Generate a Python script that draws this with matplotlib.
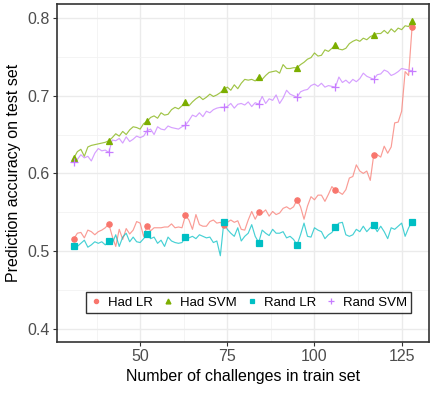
import numpy as np
import matplotlib
matplotlib.use("Agg")
import matplotlib.pyplot as plt
from matplotlib.ticker import MultipleLocator

# number of challenges in the train set
train_size = list(range(31, 129))
marker_x = [31, 41, 52, 63, 74, 84, 95, 106, 117, 128]

had_lr = [
    0.516, 0.523, 0.524, 0.517, 0.527, 0.525, 0.521, 0.525, 0.527, 0.530,
    0.535, 0.519, 0.506, 0.528, 0.515, 0.529, 0.522, 0.527, 0.538, 0.536,
    0.519, 0.532, 0.526, 0.530, 0.530, 0.530, 0.531, 0.531, 0.535, 0.530,
    0.531, 0.530, 0.546,
    0.540, 0.528, 0.547, 0.534, 0.532, 0.532, 0.538, 0.540, 0.536, 0.537,
    0.533, 0.537, 0.540, 0.537, 0.539, 0.528, 0.527, 0.540, 0.551, 0.541,
    0.550, 0.549, 0.553, 0.545, 0.551, 0.547, 0.549, 0.555, 0.557, 0.554,
    0.557, 0.566,
    0.557, 0.541, 0.558, 0.570, 0.566, 0.572, 0.572, 0.564, 0.573, 0.583,
    0.578, 0.576, 0.573, 0.579, 0.594, 0.596, 0.611, 0.603, 0.600, 0.603,
    0.591, 0.624, 0.624, 0.621, 0.635, 0.626, 0.634, 0.665, 0.666, 0.680,
    0.731, 0.726, 0.789,
]

had_svm = [
    0.620, 0.628, 0.631, 0.622, 0.634, 0.636, 0.637, 0.638, 0.639, 0.640,
    0.642, 0.646, 0.651, 0.648, 0.654, 0.650, 0.656, 0.660, 0.659, 0.657,
    0.664, 0.667, 0.672, 0.674, 0.671, 0.678, 0.675, 0.676, 0.682, 0.685,
    0.683, 0.687, 0.692,
    0.687, 0.692, 0.696, 0.699, 0.695, 0.698, 0.702, 0.699, 0.701, 0.704,
    0.708, 0.711, 0.707, 0.714, 0.709, 0.716, 0.721, 0.720, 0.721, 0.719,
    0.724, 0.721, 0.726, 0.730, 0.731, 0.732, 0.729, 0.740, 0.735, 0.735,
    0.736, 0.736,
    0.740, 0.743, 0.747, 0.749, 0.755, 0.751, 0.752, 0.759, 0.757, 0.761,
    0.765, 0.760, 0.759, 0.761, 0.767, 0.770, 0.772, 0.770, 0.774, 0.772,
    0.776, 0.778, 0.780, 0.780, 0.784, 0.780, 0.786, 0.782, 0.787, 0.785,
    0.790, 0.789, 0.796,
]

rand_lr = [
    0.507, 0.506, 0.510, 0.514, 0.505, 0.508, 0.512, 0.510, 0.512, 0.508,
    0.5125, 0.510, 0.521, 0.506, 0.518, 0.523, 0.512, 0.518, 0.512, 0.511,
    0.516, 0.522, 0.516, 0.518, 0.510, 0.514, 0.506, 0.518, 0.513, 0.511,
    0.510, 0.511, 0.518,
    0.517, 0.519, 0.516, 0.521, 0.519, 0.517, 0.518, 0.511, 0.513, 0.494,
    0.537, 0.528, 0.523, 0.519, 0.530, 0.513, 0.519, 0.523, 0.534, 0.519,
    0.511, 0.527, 0.523, 0.520, 0.528, 0.523, 0.523, 0.525, 0.517, 0.519,
    0.515, 0.508, 0.521, 0.536, 0.519,
    0.518, 0.530, 0.527, 0.525, 0.516, 0.521, 0.524, 0.531, 0.536, 0.537,
    0.521, 0.519, 0.521, 0.528, 0.525, 0.532, 0.525, 0.530, 0.533, 0.525,
    0.532, 0.525, 0.516, 0.530, 0.528, 0.532, 0.536, 0.519, 0.530, 0.538,
]

rand_svm = [
    0.615, 0.618, 0.624, 0.620, 0.622, 0.616, 0.626, 0.632, 0.629, 0.630,
    0.627, 0.643, 0.642, 0.645, 0.639, 0.647, 0.641, 0.644, 0.648, 0.646,
    0.648, 0.655, 0.657, 0.650, 0.660, 0.657, 0.656, 0.661, 0.659, 0.658,
    0.657, 0.660, 0.662,
    0.668, 0.675, 0.673, 0.678, 0.673, 0.680, 0.678, 0.682, 0.684, 0.685,
    0.685, 0.686, 0.690, 0.684, 0.689, 0.690, 0.688, 0.692,
    0.686, 0.691, 0.689, 0.699, 0.690, 0.696, 0.694, 0.701, 0.690, 0.697,
    0.707, 0.702, 0.700, 0.698, 0.705, 0.707, 0.708, 0.713, 0.715, 0.712,
    0.716, 0.711, 0.713, 0.712, 0.711, 0.724, 0.717, 0.720, 0.716, 0.721,
    0.718, 0.722, 0.729, 0.725, 0.723, 0.721, 0.727, 0.728, 0.733, 0.731,
    0.726, 0.728, 0.731, 0.735, 0.734, 0.733, 0.732,
]

series = [
    ("Had LR", had_lr, "#F8766D", "o", 3.8),
    ("Had SVM", had_svm, "#7CAE00", "^", 4.4),
    ("Rand LR", rand_lr, "#00BFC4", "s", 3.8),
    ("Rand SVM", rand_svm, "#C77CFF", "+", 6.0),
]

plt.rcParams["font.family"] = ["Liberation Sans", "DejaVu Sans"]

fig = plt.figure(figsize=(4.33, 3.93), dpi=100)
ax = fig.add_axes([0.1316, 0.1298, 0.8592, 0.86])

x = np.array(train_size)
for name, vals, col, mk, ms in series:
    y = np.array(vals)
    assert len(y) == len(x), name
    ax.plot(x, y, color=col, lw=0.85, alpha=0.72, zorder=2)
    sel = np.isin(x, marker_x)
    ax.plot(x[sel], y[sel], ls="none", marker=mk, ms=ms, color=col,
            mew=0.9, zorder=3, label=name)

ax.set_xlim(26.15, 132.85)
ax.set_ylim(0.383, 0.818)
ax.xaxis.set_major_locator(MultipleLocator(25))
ax.xaxis.set_minor_locator(MultipleLocator(12.5))
ax.yaxis.set_major_locator(MultipleLocator(0.1))
ax.yaxis.set_minor_locator(MultipleLocator(0.05))
ax.yaxis.set_major_formatter(lambda v, p: f"{v:.1f}")

ax.grid(which="major", color="#EBEBEB", lw=1.0, zorder=0)
ax.grid(which="minor", color="#F2F2F2", lw=0.6, zorder=0)
ax.set_axisbelow(True)
ax.tick_params(which="major", length=3, width=0.8, color="#333333",
               labelsize=11.5, labelcolor="#4D4D4D", pad=2)
ax.tick_params(which="minor", length=0)
for s in ax.spines.values():
    s.set_color("#333333")
    s.set_linewidth(1.2)

ax.set_xlabel("Number of challenges in train set", fontsize=11.5, labelpad=4)
ax.set_ylabel("Prediction accuracy on test set", fontsize=11.5, labelpad=5)

leg = ax.legend(loc="center", bbox_to_anchor=(0.515, 0.117), ncol=4,
                fontsize=9.5, frameon=True, fancybox=False, markerscale=0.8,
                handlelength=0.9, handletextpad=0.45, columnspacing=0.7,
                borderpad=0.3, borderaxespad=0.2)
leg.get_frame().set_edgecolor("black")
leg.get_frame().set_linewidth(1.0)

fig.savefig("out.png", dpi=100)
